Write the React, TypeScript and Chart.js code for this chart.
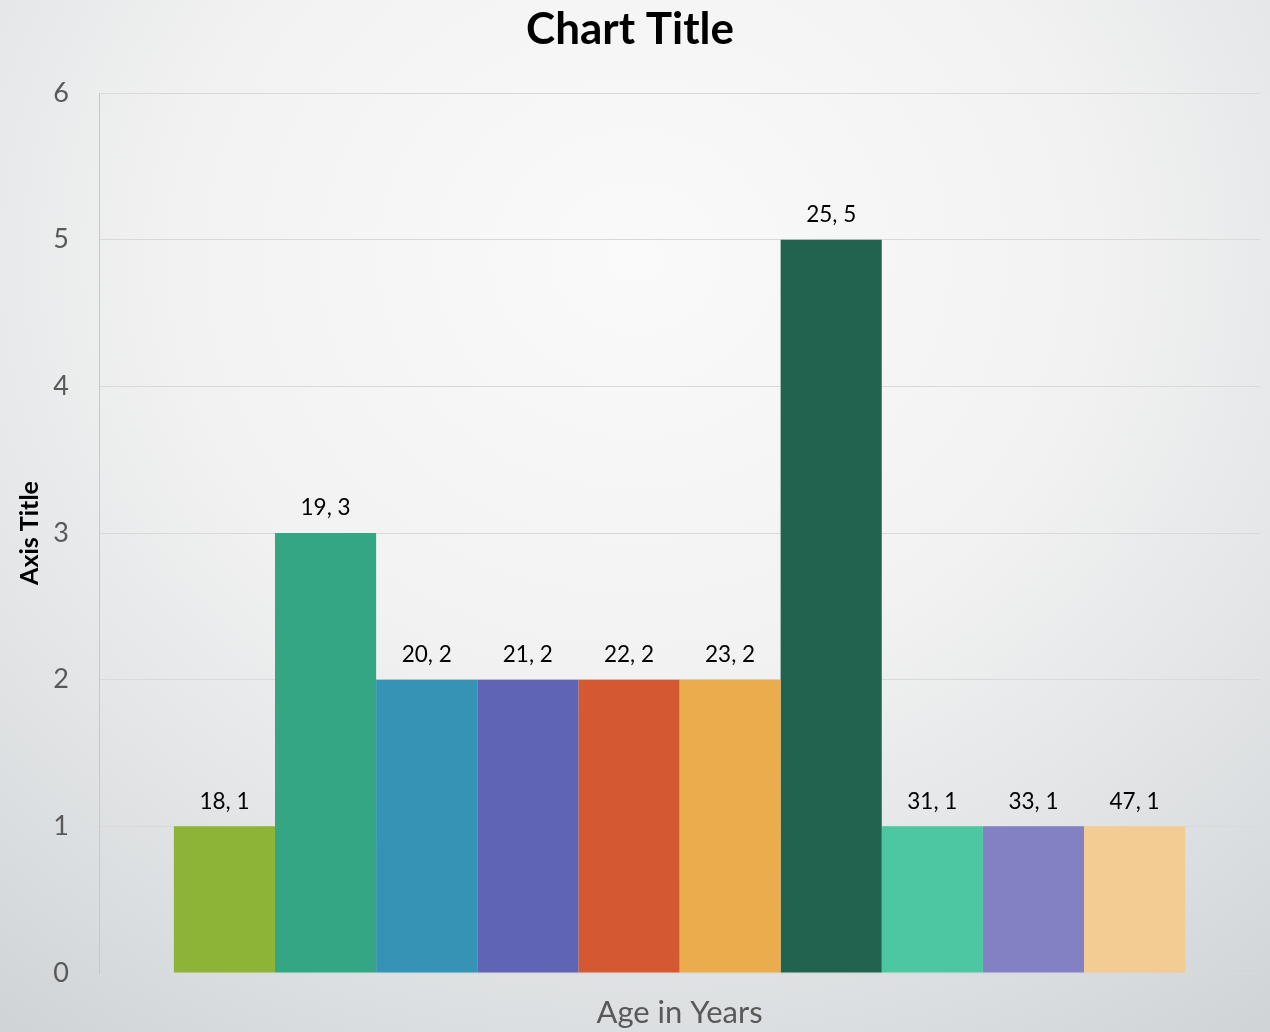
import React, { useEffect, useRef } from "react";
import { Chart, registerables } from "chart.js";

Chart.register(...registerables);

const ages = ["18", "19", "20", "21", "22", "23", "25", "31", "33", "47"];
const counts = [1, 3, 2, 2, 2, 2, 5, 1, 1, 1];
const barColors = [
  "#8DB436",
  "#34A683",
  "#3593B5",
  "#6064B4",
  "#D45831",
  "#EAAC4C",
  "#21634F",
  "#4DC7A1",
  "#8181C3",
  "#F3CC94",
];
const yTicks = [0, 1, 2, 3, 4, 5, 6];
const chartTitle = "Chart Title";
const xTitle = "Age in Years";
const yTitle = "Axis Title";

const FONT = "Lato, 'Open Sans', sans-serif";

const labelPlugin = {
  id: "barLabels",
  afterDatasetsDraw(chart: any) {
    const ctx = chart.ctx;
    ctx.save();
    ctx.font = `22.5px ${FONT}`;
    ctx.fillStyle = "#000000";
    ctx.textAlign = "center";
    ctx.textBaseline = "middle";
    chart.data.datasets.forEach((ds: any, i: number) => {
      const meta = chart.getDatasetMeta(i);
      const el = meta.data[0];
      if (!el) return;
      ctx.fillText(`${ds.label}, ${ds.data[0]}`, el.x, el.y - 25);
    });
    ctx.restore();
  },
};

export default function App() {
  const ref = useRef<HTMLCanvasElement | null>(null);

  useEffect(() => {
    if (!ref.current) return;
    const chart = new Chart(ref.current, {
      type: "bar",
      data: {
        labels: [""],
        datasets: ages.map((a, i) => ({
          label: a,
          data: [counts[i]],
          backgroundColor: barColors[i],
          borderWidth: 0,
          categoryPercentage: 0.871,
          barPercentage: 1.0,
        })),
      },
      options: {
        animation: false,
        responsive: false,
        devicePixelRatio: 1,
        layout: { padding: { left: 0, right: 10, top: 0, bottom: 0 } },
        plugins: {
          legend: { display: false },
          tooltip: { enabled: false },
          title: {
            display: true,
            text: chartTitle,
            color: "#000000",
            font: { family: FONT, size: 44, weight: "bold", lineHeight: 1.2 },
            padding: { top: 3, bottom: 37.2 },
          },
        },
        scales: {
          x: {
            ticks: { display: false },
            grid: { display: false, drawTicks: false },
            border: { display: true, color: "#d9d9d9", width: 1 },
            title: {
              display: true,
              text: xTitle,
              color: "#595959",
              font: { family: FONT, size: 31, lineHeight: 1.2 },
              padding: { top: 0, bottom: 0 },
            },
            afterFit(scale: any) {
              scale.height = 59;
            },
          },
          y: {
            min: 0,
            max: 6,
            afterBuildTicks(scale: any) {
              scale.ticks = yTicks.map((v) => ({ value: v }));
            },
            ticks: {
              color: "#595959",
              font: { family: FONT, size: 27 },
              padding: 30,
            },
            grid: { color: "#d9d9d9", lineWidth: 1, drawTicks: false },
            border: { display: true, color: "#c8c8c8", width: 1 },
            title: {
              display: true,
              text: yTitle,
              color: "#000000",
              font: { family: FONT, size: 25, weight: "bold", lineHeight: 1.2 },
              padding: { top: 15, bottom: 0 },
            },
            afterFit(scale: any) {
              scale.width = 99;
            },
          },
        },
      },
      plugins: [labelPlugin],
    });
    return () => chart.destroy();
  }, []);

  return (
    <div
      style={{
        position: "absolute",
        left: 0,
        top: 0,
        width: 1270,
        height: 1032,
        background:
          "radial-gradient(ellipse 90% 100% at 50% 25%, #fafafa 0%, #f2f2f2 40%, #dcdfe1 75%, #cbcfd2 100%)",
      }}
    >
      <canvas ref={ref} width={1270} height={1032} style={{ display: "block" }} />
    </div>
  );
}
